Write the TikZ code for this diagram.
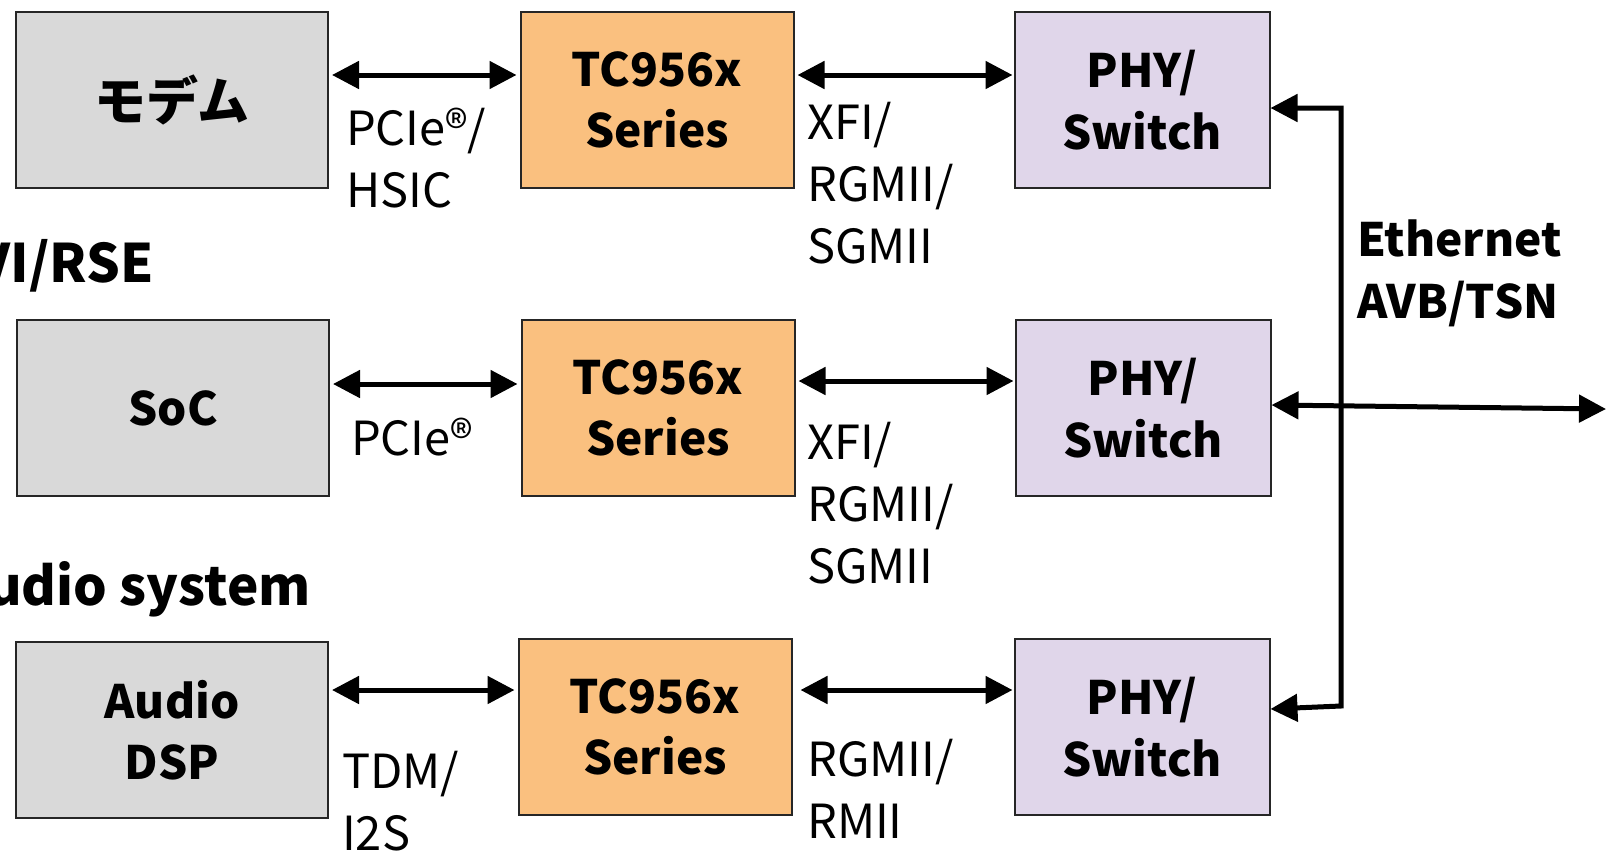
\documentclass[tikz,border=0pt]{standalone}
\usepackage{fontspec}
\setmainfont{Noto Sans CJK JP}
\usetikzlibrary{arrows.meta}
\definecolor{hostgray}{HTML}{D9D9D9}
\definecolor{bridgeorange}{HTML}{FAC07F}
\definecolor{phylilac}{HTML}{E0D6EA}

\begin{document}
\begin{tikzpicture}[x=1pt, y=-1pt,
  box/.style={draw=black!85, line width=2pt, minimum height=176pt, align=center,
    inner sep=0pt, font=\bfseries\fontsize{46}{61.5}\selectfont},
  host/.style={box, fill=hostgray, minimum width=312pt},
  bridge/.style={box, fill=bridgeorange, minimum width=273pt},
  phy/.style={box, fill=phylilac, minimum width=255pt},
  link/.style={line width=5pt, {Triangle[length=27pt,width=27pt]}-{Triangle[length=27pt,width=27pt]}},
  lbl/.style={anchor=base west, align=left, inner sep=0pt, font=\fontsize{47}{62}\selectfont},
  head/.style={anchor=base east, inner sep=0pt, font=\bfseries\fontsize{53}{60}\selectfont}]
  \useasboundingbox (0,0) rectangle (1606,852);

  % three rows: host, TC956x bridge, PHY/switch
  \node[host, font=\bfseries\fontsize{52}{61.5}\selectfont] (modem) at (172,100) {モデム};
  \node[bridge] (tc1) at (657,100) {TC956x\\Series};
  \node[phy] (phy1) at (1142,100) {PHY/\\Switch};

  \node[host] (soc) at (173,408) {SoC};
  \node[bridge] (tc2) at (658,408) {TC956x\\Series};
  \node[phy] (phy2) at (1143,408) {PHY/\\Switch};

  \node[host] (dsp) at (172,730) {Audio\\DSP};
  \node[bridge] (tc3) at (655,727) {TC956x\\Series};
  \node[phy] (phy3) at (1142,727) {PHY/\\Switch};

  \node[head] (ivi) at (154,282) {VI/RSE};
  \node[head] (audio) at (311,605) {udio system};

  \draw[link] ([xshift=3pt,yshift=25pt]modem.east) -- ([xshift=-3pt,yshift=25pt]tc1.west);
  \draw[link] ([xshift=3pt,yshift=25pt]tc1.east) -- ([xshift=-1pt,yshift=25pt]phy1.west);
  \draw[link] ([xshift=3pt,yshift=24pt]soc.east) -- ([xshift=-3pt,yshift=24pt]tc2.west);
  \draw[link] ([xshift=3pt,yshift=27pt]tc2.east) -- ([xshift=-1pt,yshift=27pt]phy2.west);
  \draw[link] ([xshift=3pt,yshift=40pt]dsp.east) -- ([xshift=-3pt,yshift=37pt]tc3.west);
  \draw[link] ([xshift=8pt,yshift=37pt]tc3.east) -- ([xshift=-1pt,yshift=37pt]phy3.west);

  \node[lbl] (if1) at (346,207) {PCIe®/\\HSIC};
  \node[lbl] (mac1) at (807,263) {XFI/\\RGMII/\\SGMII};
  \node[lbl] (if2) at (351,455) {PCIe®};
  \node[lbl] (mac2) at (807,583) {XFI/\\RGMII/\\SGMII};
  \node[lbl] (if3) at (342,850) {TDM/\\I2S};
  \node[lbl] (mac3) at (807,838) {RGMII/\\RMII};

  % Ethernet bus on the right
  \coordinate (busbot) at (1341,706);
  \coordinate (ethout) at (1606,409);
  \draw[link] ([yshift=-8pt]phy1.east) -| (busbot) -- ([yshift=18pt]phy3.east);
  \draw[link] ([yshift=3pt]phy2.east) -- (ethout);
  \node[lbl, font=\bfseries\fontsize{46}{62}\selectfont] (eth) at (1357,318) {Ethernet\\AVB/TSN};
\end{tikzpicture}
\end{document}
